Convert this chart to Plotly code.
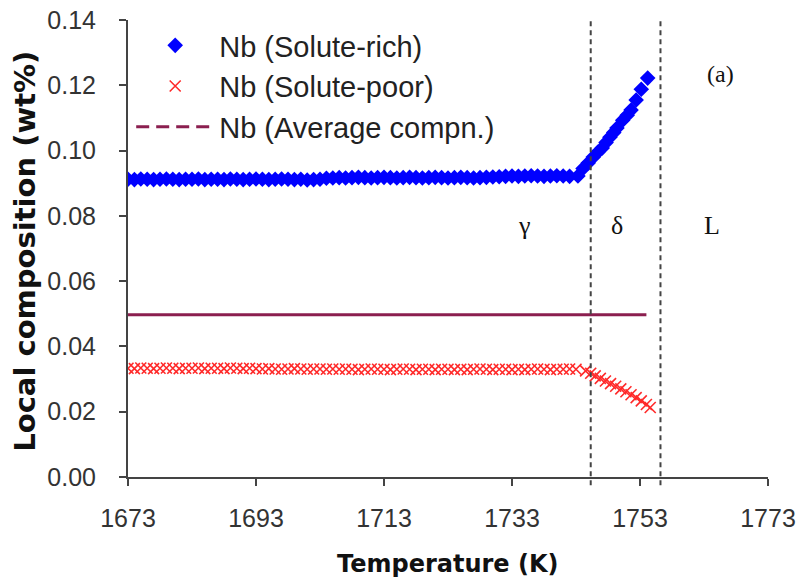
import plotly.graph_objects as go

# ---- data ----
rich_T = [1673, 1674, 1675, 1676, 1677, 1678, 1679, 1680, 1681, 1682,
          1683, 1684, 1685, 1686, 1687, 1688, 1689, 1690, 1691, 1692,
          1693, 1694, 1695, 1696, 1697, 1698, 1699, 1700, 1701, 1702,
          1703, 1704, 1705, 1706, 1707, 1708, 1709, 1710, 1711, 1712,
          1713, 1714, 1715, 1716, 1717, 1718, 1719, 1720, 1721, 1722,
          1723, 1724, 1725, 1726, 1727, 1728, 1729, 1730, 1731, 1732,
          1733, 1734, 1735, 1736, 1737, 1738, 1739, 1740, 1741, 1742,
          1743.3, 1744.1, 1744.9, 1745.7, 1746.4, 1747.1, 1747.7, 1748.3,
          1748.9, 1749.4, 1750.3, 1751.0, 1751.6, 1752.4, 1753.2, 1754.2]
rich_val = [0.0912, 0.0911, 0.0913, 0.0912, 0.0911, 0.0912, 0.0913, 0.0912, 0.0911, 0.0912,
            0.0912, 0.0913, 0.0911, 0.0912, 0.0912, 0.0911, 0.0913, 0.0912, 0.0911, 0.0912,
            0.0913, 0.0912, 0.0911, 0.0912, 0.0913, 0.0912, 0.0911, 0.0912, 0.0910, 0.0911,
            0.0912, 0.0915, 0.0916, 0.0917, 0.0916, 0.0917, 0.0918, 0.0917, 0.0916, 0.0917,
            0.0918, 0.0917, 0.0916, 0.0917, 0.0918, 0.0917, 0.0916, 0.0917, 0.0918, 0.0917,
            0.0916, 0.0917, 0.0918, 0.0917, 0.0916, 0.0917, 0.0918, 0.0919, 0.0920, 0.0921,
            0.0922, 0.0921, 0.0922, 0.0923, 0.0922, 0.0921, 0.0922, 0.0923, 0.0922, 0.0921,
            0.0922, 0.0945, 0.0962, 0.0980, 0.0995, 0.1008, 0.1025, 0.1041,
            0.1055, 0.1069, 0.1093, 0.1108, 0.1124, 0.1155, 0.1188, 0.1222]

poor_T = [1673, 1674, 1675, 1676, 1677, 1678, 1679, 1680, 1681, 1682,
          1683, 1684, 1685, 1686, 1687, 1688, 1689, 1690, 1691, 1692,
          1693, 1694, 1695, 1696, 1697, 1698, 1699, 1700, 1701, 1702,
          1703, 1704, 1705, 1706, 1707, 1708, 1709, 1710, 1711, 1712,
          1713, 1714, 1715, 1716, 1717, 1718, 1719, 1720, 1721, 1722,
          1723, 1724, 1725, 1726, 1727, 1728, 1729, 1730, 1731, 1732,
          1733, 1734, 1735, 1736, 1737, 1738, 1739, 1740, 1741, 1742, 1743,
          1744.5, 1745.3, 1746.0, 1746.8, 1747.6, 1748.4, 1749.2, 1750.0,
          1750.8, 1751.6, 1752.4, 1753.2, 1754.0, 1754.6]
poor_val = [0.0333, 0.0332, 0.0334, 0.0333, 0.0332, 0.0333, 0.0334, 0.0333, 0.0332, 0.0333,
            0.0333, 0.0334, 0.0332, 0.0333, 0.0333, 0.0332, 0.0334, 0.0333, 0.0332, 0.0333,
            0.0332, 0.0331, 0.0332, 0.0331, 0.0330, 0.0331, 0.0332, 0.0331, 0.0330, 0.0331,
            0.0331, 0.0330, 0.0331, 0.0330, 0.0331, 0.0330, 0.0329, 0.0330, 0.0331, 0.0330,
            0.0330, 0.0329, 0.0330, 0.0331, 0.0330, 0.0329, 0.0330, 0.0330, 0.0329, 0.0330,
            0.0330, 0.0329, 0.0330, 0.0329, 0.0330, 0.0331, 0.0330, 0.0329, 0.0330, 0.0330,
            0.0329, 0.0330, 0.0329, 0.0330, 0.0331, 0.0330, 0.0329, 0.0330, 0.0330, 0.0331, 0.0330,
            0.0325, 0.0318, 0.0310, 0.0302, 0.0294, 0.0286, 0.0278, 0.0270,
            0.0261, 0.0252, 0.0243, 0.0233, 0.0222, 0.0213]

avg_T = [1673, 1754]
avg_val = [0.0497, 0.0497]

phase_boundaries = [1745.3, 1756.2]
phase_labels = ["γ", "δ", "L"]
phase_label_T = [1735, 1749.4, 1764.2]
phase_label_y = 0.077

x_ticks = [1673, 1693, 1713, 1733, 1753, 1773]
y_ticks = [0.00, 0.02, 0.04, 0.06, 0.08, 0.10, 0.12, 0.14]

names = ["Nb (Solute-rich)", "Nb (Solute-poor)", "Nb (Average compn.)"]

fig = go.Figure()
fig.add_trace(go.Scatter(x=rich_T, y=rich_val, mode="markers", name=names[0],
                         marker=dict(symbol="diamond", size=12, color="#0000ff",
                                     line=dict(width=0))))
fig.add_trace(go.Scatter(x=poor_T, y=poor_val, mode="markers", name=names[1],
                         marker=dict(symbol="x-thin", size=11,
                                     line=dict(width=1.6, color="#ff2a2a"),
                                     color="#ff2a2a")))
# plotted average line (solid) + legend entry drawn dashed as in the reference
fig.add_trace(go.Scatter(x=avg_T, y=avg_val, mode="lines", name=names[2],
                         showlegend=False, line=dict(color="#8b1f4f", width=3)))
fig.add_trace(go.Scatter(x=[None], y=[None], mode="lines", name=names[2],
                         line=dict(color="#8b1f4f", width=3, dash="13px,7px")))

for xb in phase_boundaries:
    fig.add_shape(type="line", xref="x", yref="paper", x0=xb, x1=xb, y0=-0.018, y1=1,
                  line=dict(color="#444444", width=2, dash="5px,4px"))

for lbl, xt in zip(phase_labels, phase_label_T):
    fig.add_annotation(x=xt, y=phase_label_y, text=lbl, showarrow=False,
                       font=dict(family="Liberation Serif", size=26, color="#111111"))

fig.add_annotation(x=1765.5, y=0.1235, text="(a)", showarrow=False,
                   font=dict(family="Liberation Serif", size=24, color="#111111"))

fig.add_annotation(xref="paper", yref="paper", x=0.5, y=-0.19, yanchor="middle",
                   text="<b>Temperature (K)</b>", showarrow=False,
                   font=dict(family="DejaVu Sans", size=24, color="#111111"))
fig.add_annotation(xref="paper", yref="paper", x=-0.161, y=0.495, xanchor="center",
                   text="<b>Local composition (wt%)</b>", showarrow=False, textangle=-90,
                   font=dict(family="DejaVu Sans", size=29, color="#111111"))

fig.update_layout(
    width=798, height=584,
    margin=dict(l=128, r=30, t=20, b=107),
    plot_bgcolor="white", paper_bgcolor="white",
    showlegend=True,
    legend=dict(x=0.005, y=1.0, xanchor="left", yanchor="top",
                bgcolor="rgba(0,0,0,0)",
                font=dict(family="Liberation Sans", size=29, color="#222222"),
                tracegroupgap=0, itemwidth=78),
    xaxis=dict(range=[1673, 1773], tickmode="array", tickvals=x_ticks,
               ticktext=[str(v) for v in x_ticks], automargin=False,
               ticklabeloverflow="allow",
               showgrid=False, zeroline=False, showline=True, linecolor="#444444",
               linewidth=2, ticks="outside", ticklen=7, tickwidth=1.5, tickcolor="#444444",
               ticklabelstandoff=11,
               tickfont=dict(family="Liberation Sans", size=25, color="#333333")),
    yaxis=dict(range=[0, 0.14], tickmode="array", tickvals=y_ticks,
               ticktext=["%.2f" % v for v in y_ticks], automargin=False,
               ticklabeloverflow="allow",
               showgrid=False, zeroline=False, showline=True, linecolor="#444444",
               linewidth=2, ticks="outside", ticklen=7, tickwidth=1.5, tickcolor="#444444",
               ticklabelstandoff=18,
               tickfont=dict(family="Liberation Sans", size=25, color="#333333")),
)

# remove the browser's default 8px body margin so the figure fills the window exactly
fig.write_html("out.html",
               config={"displayModeBar": False},
               post_script="document.body.style.margin='0px';"
                           "document.body.style.overflow='hidden';")
